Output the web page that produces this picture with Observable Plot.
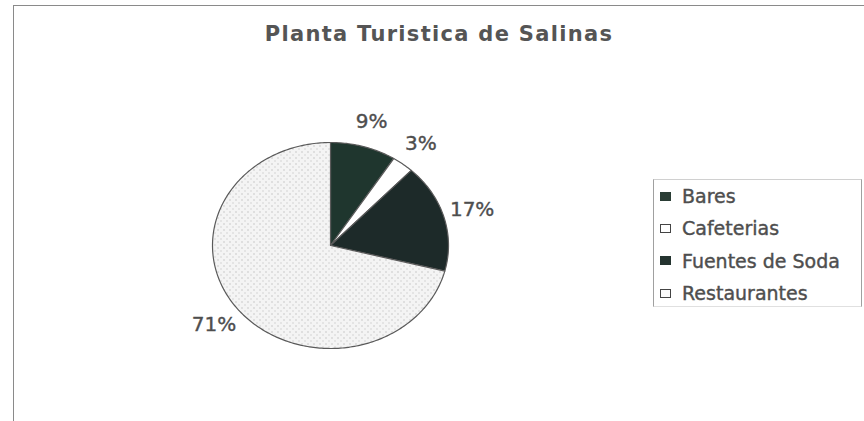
<!DOCTYPE html>
<html><head><meta charset="utf-8">
<script src="https://cdn.jsdelivr.net/npm/d3@7"></script>
<script src="https://cdn.jsdelivr.net/npm/@observablehq/plot@0.6"></script>
<style>
body{margin:0;background:#fff;}
#wrap{position:relative;width:864px;height:421px;overflow:hidden;font-family:"DejaVu Sans",sans-serif;color:#4e4e4e;}
#frame{position:absolute;left:13px;top:5px;width:860px;height:430px;border-top:1.5px solid #8a8a8a;border-left:1.5px solid #8a8a8a;}
#title{position:absolute;left:0;width:878px;top:22px;text-align:center;font-weight:bold;font-size:21px;letter-spacing:1.3px;color:#555;}
#chart{position:absolute;left:0;top:0;}
#legend{position:absolute;left:653px;top:179px;width:207px;height:126px;border:1px solid #a0a0a0;border-top-color:#d0d0d0;border-bottom-color:#e0e0e0;}
.item{height:32.4px;line-height:32.4px;font-size:19px;white-space:nowrap;display:flex;align-items:center;-webkit-text-stroke:0.4px #4e4e4e;}
.sw{width:11px;height:9px;margin-left:6px;margin-right:11px;box-sizing:border-box;-webkit-text-stroke:0;}
</style></head>
<body><div id="wrap"><div id="frame"></div><div id="chart"></div><div id="title"></div><div id="legend"></div></div>
<script>
const titleText = "Planta Turistica de Salinas";
const categories = ["Bares", "Cafeterias", "Fuentes de Soda", "Restaurantes"];
const percents = [9, 3, 17, 71];

// styles (kept separate from data)
const sliceFills = ["#1f362e", "#ffffff", "#1d2a29", "url(#dots)"];
const swatchStyles = [
  "background:#2a3d35;",
  "background:#fff;border:1.3px solid #444;",
  "background:#24332f;",
  "background:#fafafa;border:1.3px solid #444;"
];

document.getElementById("title").textContent = titleText;

const total = d3.sum(percents);
let acc = 0;
const slices = categories.map((c, i) => {
  const a0 = acc / total * 2 * Math.PI;
  acc += percents[i];
  const a1 = acc / total * 2 * Math.PI;
  return {c, v: percents[i], a0, a1, fill: sliceFills[i]};
});
const pts = slices.flatMap(s => {
  const n = Math.max(2, Math.ceil((s.a1 - s.a0) / (Math.PI / 180)));
  const arr = [{c: s.c, fill: s.fill, x: 0, y: 0}];
  for (let k = 0; k <= n; k++) {
    const a = s.a0 + (s.a1 - s.a0) * k / n;
    arr.push({c: s.c, fill: s.fill, x: Math.sin(a), y: Math.cos(a)});
  }
  arr.push({c: s.c, fill: s.fill, x: 0, y: 0});
  return arr;
});
const labels = slices.map(s => {
  const m = (s.a0 + s.a1) / 2;
  return {text: `${s.v}%`, x: 1.25 * Math.sin(m), y: 1.25 * Math.cos(m)};
});

const chart = Plot.plot({
  width: 864, height: 421,
  marginLeft: 212, marginRight: 416, marginTop: 142, marginBottom: 73,
  x: {domain: [-1, 1], axis: null},
  y: {domain: [-1, 1], axis: null},
  color: {type: "identity"},
  style: {background: "transparent", overflow: "visible"},
  marks: [
    Plot.line(pts, {x: "x", y: "y", z: "c", fill: "fill", stroke: "#5a5a5a", strokeWidth: 1.2}),
    Plot.text(labels, {x: "x", y: "y", text: "text", fontSize: 20, fill: "#4e4e4e", stroke: "#4e4e4e", strokeWidth: 0.4, fontFamily: "DejaVu Sans", textAnchor: "middle"})
  ]
});
const defs = d3.select(chart).insert("defs", ":first-child");
const pat = defs.append("pattern").attr("id", "dots").attr("width", 6).attr("height", 6).attr("patternUnits", "userSpaceOnUse");
pat.append("rect").attr("width", 6).attr("height", 6).attr("fill", "#f4f4f4");
pat.append("rect").attr("x", 1).attr("y", 1).attr("width", 1).attr("height", 1).attr("fill", "#a0a0a0");
pat.append("rect").attr("x", 4).attr("y", 4).attr("width", 1).attr("height", 1).attr("fill", "#b4b4b4");
document.getElementById("chart").appendChild(chart);

const legend = document.getElementById("legend");
categories.forEach((c, i) => {
  const row = document.createElement("div");
  row.className = "item";
  const sw = document.createElement("span");
  sw.className = "sw";
  sw.style.cssText = swatchStyles[i];
  const t = document.createElement("span");
  t.textContent = c;
  row.appendChild(sw); row.appendChild(t);
  legend.appendChild(row);
});
</script></body></html>
